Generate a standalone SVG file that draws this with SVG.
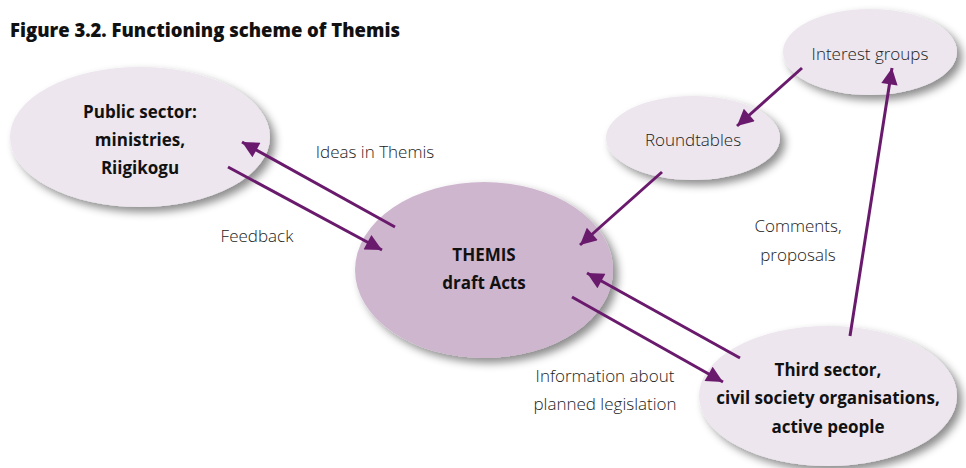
<svg xmlns="http://www.w3.org/2000/svg" width="966" height="468" viewBox="0 0 966 468">
<defs>
<filter id="sh" x="-20%" y="-20%" width="150%" height="150%">
<feDropShadow dx="5" dy="5" stdDeviation="4" flood-color="#000" flood-opacity="0.45"/>
</filter>
<marker id="ah" viewBox="0 0 10 10" refX="10" refY="5" markerWidth="7" markerHeight="5.5" markerUnits="strokeWidth" orient="auto">
<path d="M0,0 L10,5 L0,10 z" fill="#6a1a6d"/>
</marker>
<style>
.light{fill:#ede6ee;filter:url(#sh)}
.dark{fill:#cfb6cf;filter:url(#sh)}
.b{font-family:"Open Sans","Noto Sans",sans-serif;font-weight:700;font-size:17px;fill:#111;text-anchor:middle}
.l{font-family:"Open Sans","Noto Sans",sans-serif;font-weight:300;font-size:17px;fill:#222;text-anchor:middle}
.c line{stroke:#6a1a6d;stroke-width:3;marker-end:url(#ah)}
</style>
</defs>
<rect width="966" height="468" fill="#fff"/>
<text x="10" y="37" font-family="Open Sans, Noto Sans, sans-serif" font-weight="800" font-size="20" fill="#111" textLength="390" lengthAdjust="spacingAndGlyphs">Figure 3.2. Functioning scheme of Themis</text>
<g id="public">
<ellipse class="light" cx="140" cy="137" rx="130" ry="70"/>
<text class="b" x="140" y="118">Public sector:</text>
<text class="b" x="140" y="146">ministries,</text>
<text class="b" x="140" y="174">Riigikogu</text>
</g>
<g id="themis">
<ellipse class="dark" cx="484" cy="270" rx="129" ry="88"/>
<text class="b" x="484" y="261">THEMIS</text>
<text class="b" x="484" y="289">draft Acts</text>
</g>
<g id="roundtables">
<ellipse class="light" cx="693" cy="138" rx="87" ry="42"/>
<text class="l" x="693" y="146">Roundtables</text>
</g>
<g id="interest">
<ellipse class="light" cx="870" cy="52" rx="87" ry="43"/>
<text class="l" x="870" y="60">Interest groups</text>
</g>
<g id="third">
<ellipse class="light" cx="828" cy="396" rx="129" ry="70"/>
<text class="b" x="828" y="376">Third sector,</text>
<text class="b" x="828" y="404">civil society organisations,</text>
<text class="b" x="828" y="433">active people</text>
</g>
<g id="connectors" class="c">
<line x1="395" y1="227" x2="242" y2="142"/>
<line x1="228" y1="167" x2="382" y2="250"/>
<line x1="662" y1="172" x2="580" y2="245"/>
<line x1="802" y1="68" x2="737" y2="126"/>
<line x1="850" y1="336" x2="892" y2="68"/>
<line x1="740" y1="358" x2="587" y2="273"/>
<line x1="572" y1="297" x2="723" y2="382"/>
</g>
<g id="labels">
<text class="l" x="375" y="158">Ideas in Themis</text>
<text class="l" x="257" y="242">Feedback</text>
<text class="l" x="798" y="232">Comments,</text>
<text class="l" x="798" y="261">proposals</text>
<text class="l" x="605" y="382">Information about</text>
<text class="l" x="605" y="410">planned legislation</text>
</g>
</svg>
